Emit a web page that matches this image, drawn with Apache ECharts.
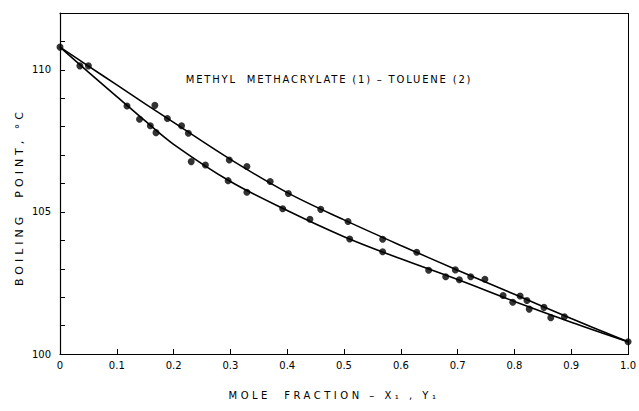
<!DOCTYPE html>
<html>
<head>
<meta charset="utf-8">
<script src="https://cdn.jsdelivr.net/npm/echarts@6/dist/echarts.min.js"></script>
<style>
html,body{margin:0;padding:0;background:#fff;}
#wrap{position:relative;width:639px;height:411px;}
#c{width:639px;height:411px;}
#frameRight{position:absolute;width:1px;background:#000;pointer-events:none;}
</style>
</head>
<body>
<div id="wrap"><div id="c"></div><div id="frameRight"></div></div>
<script>
// Liquid (bubble point) data: mole fraction x1, boiling point °C
const liquidX = [0, 0.035, 0.118, 0.140, 0.159, 0.169, 0.231, 0.256, 0.296, 0.329, 0.392, 0.440, 0.510, 0.568, 0.649, 0.679, 0.703, 0.780, 0.797, 0.826, 0.864, 1.0];
const liquidT = [110.80, 110.14, 108.73, 108.26, 108.03, 107.79, 106.77, 106.65, 106.10, 105.69, 105.11, 104.74, 104.05, 103.60, 102.95, 102.72, 102.61, 102.06, 101.82, 101.58, 101.28, 100.43];
// Vapor (dew point) data: mole fraction y1, boiling point °C
const vaporX = [0.050, 0.167, 0.189, 0.214, 0.226, 0.298, 0.329, 0.370, 0.402, 0.459, 0.507, 0.568, 0.628, 0.696, 0.723, 0.748, 0.810, 0.822, 0.852, 0.888];
const vaporT = [110.14, 108.75, 108.29, 108.03, 107.77, 106.83, 106.60, 106.07, 105.65, 105.09, 104.66, 104.04, 103.58, 102.96, 102.72, 102.63, 102.04, 101.88, 101.64, 101.31];
// Smooth curves
const dewCurveX = [0, 0.05, 0.1, 0.15, 0.2, 0.3, 0.4, 0.5, 0.6, 0.7, 0.8, 0.9, 1.0];
const dewCurveT = [110.80, 110.13, 109.47, 108.80, 108.15, 106.85, 105.68, 104.72, 103.82, 102.95, 102.10, 101.25, 100.43];
const bubbleCurveX = [0, 0.05, 0.1, 0.15, 0.2, 0.3, 0.4, 0.5, 0.6, 0.7, 0.8, 0.9, 1.0];
const bubbleCurveT = [110.80, 109.92, 109.06, 108.20, 107.38, 106.07, 105.05, 104.13, 103.35, 102.62, 101.85, 101.12, 100.43];
// Tick labels
const xTickLabels = ['0', '0.1', '0.2', '0.3', '0.4', '0.5', '0.6', '0.7', '0.8', '0.9', '1.0'];
const yTickLabels = {100: '100', 105: '105', 110: '110'};
// Texts
const titleText = 'METHYL  METHACRYLATE (1) – TOLUENE (2)';
const xName = 'MOLE  FRACTION – X\u2081 , Y\u2081';
const yName = 'BOILING  POINT, °C';

const zip = (a, b) => a.map((v, i) => [v, b[i]]);
const font = 'DejaVu Sans';
const X_MIN = 0, X_MAX = 1, Y_MIN = 100, Y_MAX = 112;

const chart = echarts.init(document.getElementById('c'), null, {renderer: 'svg'});
chart.setOption({
  animation: false,
  backgroundColor: '#fff',
  grid: {left: 60, right: 7, top: 13, bottom: 57},
  xAxis: [{
    type: 'value', min: X_MIN, max: X_MAX, interval: 0.1,
    axisLine: {onZero: false, lineStyle: {color: '#000', width: 1.2}},
    axisTick: {inside: true, length: 5, lineStyle: {color: '#000'}},
    axisLabel: {fontFamily: font, fontSize: 10, color: '#000', margin: 6,
      formatter: v => xTickLabels[Math.round(v * 10)]},
    splitLine: {show: false}
  }, {
    type: 'value', min: X_MIN, max: X_MAX, position: 'top',
    axisLine: {show: true, onZero: false, lineStyle: {color: '#000', width: 1.2}},
    axisTick: {show: false}, axisLabel: {show: false}, splitLine: {show: false}
  }],
  yAxis: [{
    type: 'value', min: Y_MIN, max: Y_MAX, interval: 1,
    axisLine: {show: true, onZero: false, lineStyle: {color: '#000', width: 1.2}},
    axisTick: {inside: true, length: 5, lineStyle: {color: '#000'}},
    axisLabel: {fontFamily: font, fontSize: 10, color: '#000', margin: 9,
      formatter: v => yTickLabels[Math.round(v)] || ''},
    splitLine: {show: false}
  }],
  graphic: [
    {type: 'text', x: 329, y: 79,
      style: {text: titleText, fontFamily: font, fontSize: 10,
        fill: '#000', textAlign: 'center', textVerticalAlign: 'middle'}},
    {type: 'text', x: 334, y: 395,
      style: {text: xName, fontFamily: font, fontSize: 10,
        fill: '#000', textAlign: 'center', textVerticalAlign: 'middle'}},
    {type: 'text', x: 19, y: 197, rotation: Math.PI / 2,
      style: {text: yName, fontFamily: font, fontSize: 11,
        fill: '#000', textAlign: 'center', textVerticalAlign: 'middle'}}
  ],
  series: [
    {type: 'line', data: zip(dewCurveX, dewCurveT), smooth: 0.35, symbol: 'none',
      lineStyle: {color: '#000', width: 1.6}},
    {type: 'line', data: zip(bubbleCurveX, bubbleCurveT), smooth: 0.35, symbol: 'none',
      lineStyle: {color: '#000', width: 1.6}},
    {type: 'scatter', data: zip(liquidX, liquidT), symbol: 'circle', symbolSize: 7,
      itemStyle: {color: '#000'}},
    {type: 'scatter', data: zip(vaporX, vaporT), symbol: 'circle', symbolSize: 7,
      itemStyle: {color: '#000'}}
  ]
});

// emulate the wide letter spacing of the original lettering
const spacing = {};
spacing[titleText] = '1.8px';
spacing[xName] = '3.5px';
spacing[yName] = '4px';
document.querySelectorAll('#c svg text').forEach(t => {
  const s = spacing[t.textContent];
  if (s) t.setAttribute('letter-spacing', s);
});

// right edge of the frame, placed from the axis scale
const xr = chart.convertToPixel({xAxisIndex: 0}, X_MAX);
const yt = chart.convertToPixel({yAxisIndex: 0}, Y_MAX);
const yb = chart.convertToPixel({yAxisIndex: 0}, Y_MIN);
const fr = document.getElementById('frameRight');
fr.style.left = Math.floor(xr) + 'px';
fr.style.top = Math.floor(yt) + 'px';
fr.style.height = Math.ceil(yb - yt + 1) + 'px';
</script>
</body>
</html>
